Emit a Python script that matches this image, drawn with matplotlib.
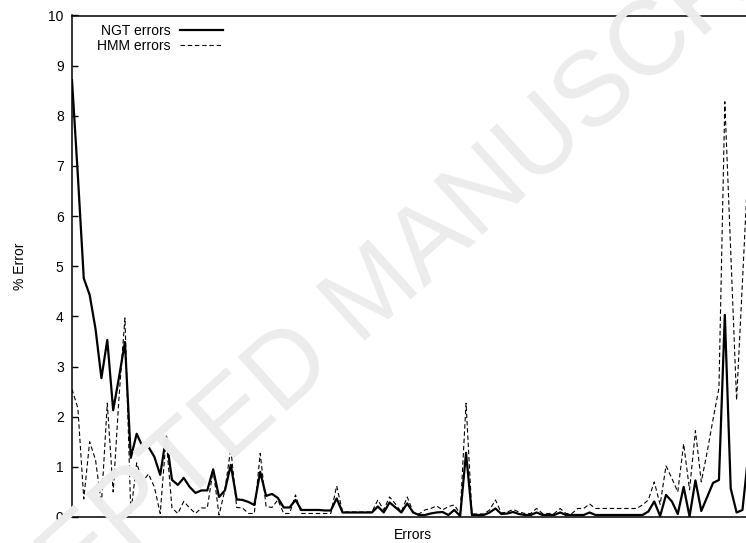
import numpy as np
import matplotlib
matplotlib.use("Agg")
import matplotlib.pyplot as plt

plt.rcParams['font.family'] = ['Liberation Sans', 'DejaVu Sans']

# values, one point per test case
ngt_errors = [8.71, 6.8, 4.76, 4.43, 3.75, 2.77, 3.53, 2.13, 2.79, 3.49,
              1.18, 1.66, 1.40, 1.40, 1.20, 0.84, 1.60, 0.74, 0.64, 0.78,
              0.60, 0.48, 0.53, 0.53, 0.95, 0.40, 0.53, 1.04, 0.35, 0.34,
              0.30, 0.24, 0.90, 0.42, 0.46, 0.38, 0.19, 0.19, 0.34, 0.14,
              0.14, 0.14, 0.14, 0.13, 0.13, 0.37, 0.09, 0.09, 0.09, 0.09,
              0.09, 0.09, 0.21, 0.09, 0.29, 0.19, 0.09, 0.27, 0.09, 0.04,
              0.04, 0.07, 0.09, 0.10, 0.04, 0.14, 0.02, 1.28, 0.04, 0.04,
              0.04, 0.09, 0.17, 0.06, 0.07, 0.10, 0.06, 0.04, 0.04, 0.09,
              0.04, 0.04, 0.04, 0.09, 0.04, 0.04, 0.04, 0.04, 0.09, 0.04,
              0.04, 0.04, 0.04, 0.04, 0.04, 0.04, 0.04, 0.04, 0.11, 0.31,
              0.02, 0.44, 0.31, 0.06, 0.60, 0.01, 0.73, 0.12, 0.40, 0.68,
              0.74, 4.03, 0.57, 0.09, 0.14, 1.25]
hmm_errors = [2.55, 2.17, 0.36, 1.50, 1.14, 0.26, 2.27, 0.50, 2.40, 3.97,
              0.08, 1.08, 0.70, 0.86, 0.60, 0.07, 1.57, 0.18, 0.07, 0.31,
              0.18, 0.07, 0.18, 0.18, 0.94, 0.04, 0.54, 1.37, 0.19, 0.18,
              0.07, 0.07, 1.27, 0.21, 0.19, 0.34, 0.07, 0.07, 0.44, 0.07,
              0.07, 0.07, 0.07, 0.07, 0.07, 0.62, 0.10, 0.10, 0.10, 0.10,
              0.10, 0.10, 0.34, 0.14, 0.40, 0.26, 0.10, 0.40, 0.10, 0.06,
              0.14, 0.17, 0.22, 0.14, 0.21, 0.24, 0.06, 2.27, 0.06, 0.06,
              0.06, 0.14, 0.34, 0.08, 0.10, 0.15, 0.10, 0.07, 0.07, 0.17,
              0.07, 0.07, 0.07, 0.17, 0.07, 0.07, 0.17, 0.17, 0.26, 0.17,
              0.17, 0.17, 0.17, 0.17, 0.17, 0.17, 0.17, 0.24, 0.34, 0.70,
              0.25, 1.02, 0.77, 0.50, 1.46, 0.54, 1.72, 0.70, 1.30, 1.95,
              2.57, 8.28, 5.30, 2.33, 4.70, 7.10]
x = np.arange(len(ngt_errors))

fig = plt.figure(figsize=(7.46, 5.43), dpi=100)
ax = fig.add_axes([72/746, 1 - 517/543, 1 - 72/746, (517 - 15.5)/543])

# faint watermark of the journal page
fig.text(375/746, 1 - 295/543, "ACCEPTED MANUSCRIPT", fontsize=76, color='#ececec',
         rotation=42, ha='center', va='center', zorder=0)
ax.patch.set_alpha(0)

ax.plot(x, ngt_errors, color='black', lw=1.6, label='NGT errors')
ax.plot(x, hmm_errors, color='black', lw=0.8, ls=(0, (4, 2.5)), label='HMM errors')

ax.set_xlim(0, 114.6)
ax.set_ylim(0, 10)
ax.set_yticks(range(0, 11))
ax.set_xticks([])
ax.tick_params(axis='y', direction='in', length=4.5, width=1, labelsize=10, pad=6)
for s in ['left', 'bottom', 'top']:
    ax.spines[s].set_linewidth(1.1)
ax.spines['right'].set_visible(False)

ax.set_xlabel("Errors", fontsize=10)
ax.xaxis.set_label_coords((413 - 72)/674, -0.022)
fig.text(20/746, 1 - 266/543, "% Error", rotation=90, ha='center', va='center', fontsize=10)

ax.legend(loc='upper left', bbox_to_anchor=(97/746, 1 - 24/543), bbox_transform=fig.transFigure,
          frameon=False, markerfirst=False, fontsize=10, handlelength=3.1,
          handletextpad=0.7, labelspacing=0.08, borderpad=0, borderaxespad=0)

fig.savefig("out.png", dpi=100)
